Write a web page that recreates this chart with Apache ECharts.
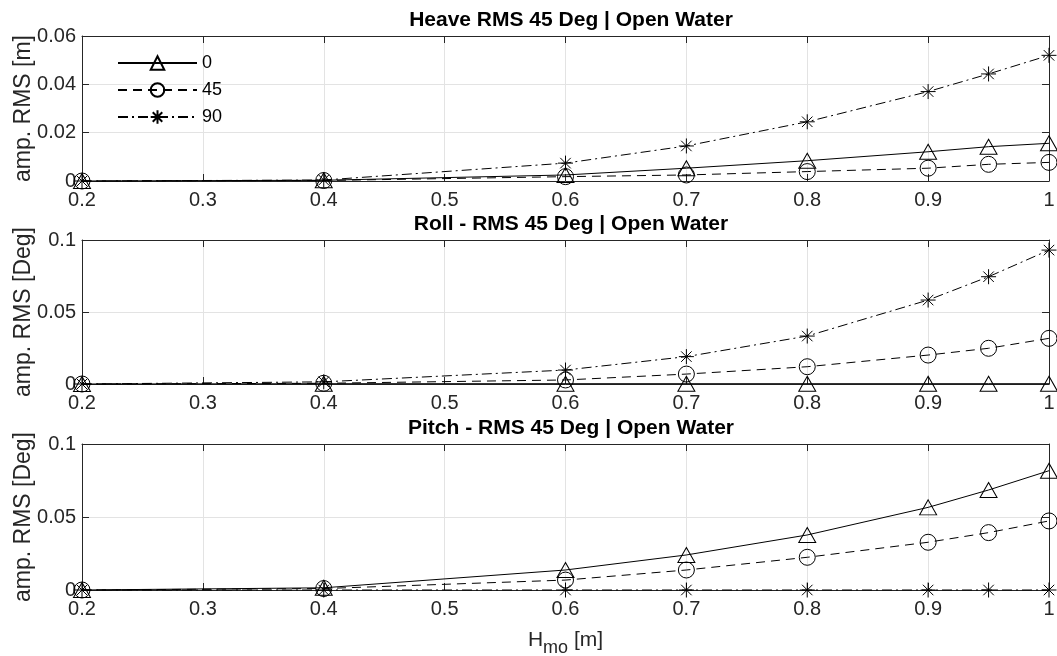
<!DOCTYPE html>
<html>
<head>
<meta charset="utf-8">
<script src="https://cdn.jsdelivr.net/npm/echarts@6/dist/echarts.min.js"></script>
<style>
  html, body { margin: 0; padding: 0; background: #fff; }
  #chart { width: 1057px; height: 656px; }
</style>
</head>
<body>
<div id="chart"></div>
<script>
// wave height Hmo [m]
const hmo = [0.2, 0.4, 0.6, 0.7, 0.8, 0.9, 0.95, 1];
const headings = ['0', '45', '90'];

const heave0 = [0, 0.0003, 0.0025, 0.0053, 0.0084, 0.0121, 0.0142, 0.0156];
const heave45 = [0, 0.0002, 0.0018, 0.0025, 0.0039, 0.0053, 0.0069, 0.0077];
const heave90 = [0, 0.0004, 0.0074, 0.0145, 0.0245, 0.037, 0.0443, 0.052];

const roll0 = [0, 0.0002, 0.0002, 0.0002, 0.0002, 0.0002, 0.0002, 0.0002];
const roll45 = [0, 0.0005, 0.0028, 0.0069, 0.012, 0.0201, 0.0248, 0.0317];
const roll90 = [0, 0.0015, 0.0097, 0.019, 0.0333, 0.0583, 0.0745, 0.093];

const pitch0 = [0, 0.0015, 0.0137, 0.024, 0.0377, 0.0566, 0.0685, 0.0817];
const pitch45 = [0, 0.001, 0.0068, 0.0137, 0.0224, 0.0327, 0.0393, 0.0473];
const pitch90 = [0, 0, 0, 0, 0, 0, 0, 0];

const panels = [
  { title: 'Heave RMS 45 Deg | Open Water', unit: 'amp. RMS [m]', max: 0.06, step: 0.02, data: [heave0, heave45, heave90] },
  { title: 'Roll - RMS 45 Deg | Open Water', unit: 'amp. RMS [Deg]', max: 0.1, step: 0.05, data: [roll0, roll45, roll90] },
  { title: 'Pitch - RMS 45 Deg | Open Water', unit: 'amp. RMS [Deg]', max: 0.1, step: 0.05, data: [pitch0, pitch45, pitch90] }
];

const font = 'Liberation Sans, Arial, Helvetica, sans-serif';
const ink = '#262626';
const starPath = 'path://M0,-1L0,1M-1,0L1,0M-0.7,-0.7L0.7,0.7M-0.7,0.7L0.7,-0.7';
const marks = [
  { symbol: 'triangle', size: [17, 15], line: 'solid' },
  { symbol: 'circle', size: 16, line: [9, 6] },
  { symbol: starPath, size: 15, line: [10, 4, 2, 4] }
];

const tops = [36, 240, 444];
const heights = [145, 144, 146];

const grid = [], xAxis = [], yAxis = [], series = [], title = [];

panels.forEach((p, i) => {
  grid.push({ left: 82, right: 8, top: tops[i], height: heights[i], outerBoundsMode: 'none', containLabel: false });
  title.push({
    text: p.title, left: 566, top: tops[i] - 31, textAlign: 'center',
    textStyle: { fontFamily: font, fontSize: 21, fontWeight: 'bold', color: '#000' }
  });
  const xBase = {
    gridIndex: i, type: 'value', min: 0.2, max: 1, interval: 0.1,
    axisLine: { onZero: false, lineStyle: { color: ink, width: 1 } },
    axisTick: { inside: true, length: 7, lineStyle: { color: ink } }
  };
  xAxis.push(Object.assign({}, xBase, {
    position: 'bottom',
    axisLabel: { color: ink, fontFamily: font, fontSize: 20, margin: 9 },
    splitLine: { show: true, lineStyle: { color: '#e3e3e3' } },
    name: i === 2 ? 'H{sub|mo} [m]' : '',
    nameLocation: 'middle', nameGap: 33, nameMoveOverlap: false,
    nameTextStyle: {
      color: ink, fontFamily: font, fontSize: 21,
      rich: { sub: { fontSize: 18, fontFamily: font, color: ink, padding: [16, 0, 0, 0] } }
    }
  }));
  xAxis.push(Object.assign({}, xBase, {
    position: 'top', axisLabel: { show: false }, splitLine: { show: false }
  }));
  const yBase = {
    gridIndex: i, type: 'value', min: 0, max: p.max, interval: p.step,
    axisLine: { lineStyle: { color: ink, width: 1 } },
    axisTick: { inside: true, length: 7, lineStyle: { color: ink } }
  };
  yAxis.push(Object.assign({}, yBase, {
    position: 'left',
    axisLabel: { color: ink, fontFamily: font, fontSize: 20, margin: 6 },
    splitLine: { show: true, lineStyle: { color: '#e3e3e3' } },
    name: p.unit, nameLocation: 'middle', nameGap: 47, nameMoveOverlap: false,
    nameTextStyle: { color: ink, fontFamily: font, fontSize: 23 }
  }));
  yAxis.push(Object.assign({}, yBase, {
    position: 'right', axisLabel: { show: false }, splitLine: { show: false }
  }));

  p.data.forEach((vals, k) => {
    series.push({
      name: headings[k], type: 'line',
      xAxisIndex: i * 2, yAxisIndex: i * 2,
      data: hmo.map((h, j) => [h, vals[j]]),
      symbol: marks[k].symbol, symbolSize: marks[k].size,
      showAllSymbol: true, clip: false,
      lineStyle: { color: '#000', width: 1, type: marks[k].line },
      itemStyle: { color: 'rgba(0,0,0,0)', borderColor: '#000', borderWidth: 1 },
      emphasis: { disabled: true },
      z: 3 + k
    });
  });
});

const chart = echarts.init(document.getElementById('chart'), null, { renderer: 'canvas' });
chart.setOption({
  animation: false,
  backgroundColor: '#fff',
  title,
  grid, xAxis, yAxis, series,
  legend: {
    data: headings,
    orient: 'vertical', left: 112, top: 49,
    itemWidth: 79, itemHeight: 17, itemGap: 9,
    textStyle: { fontFamily: font, fontSize: 18, color: '#000' }
  }
});
</script>
</body>
</html>
